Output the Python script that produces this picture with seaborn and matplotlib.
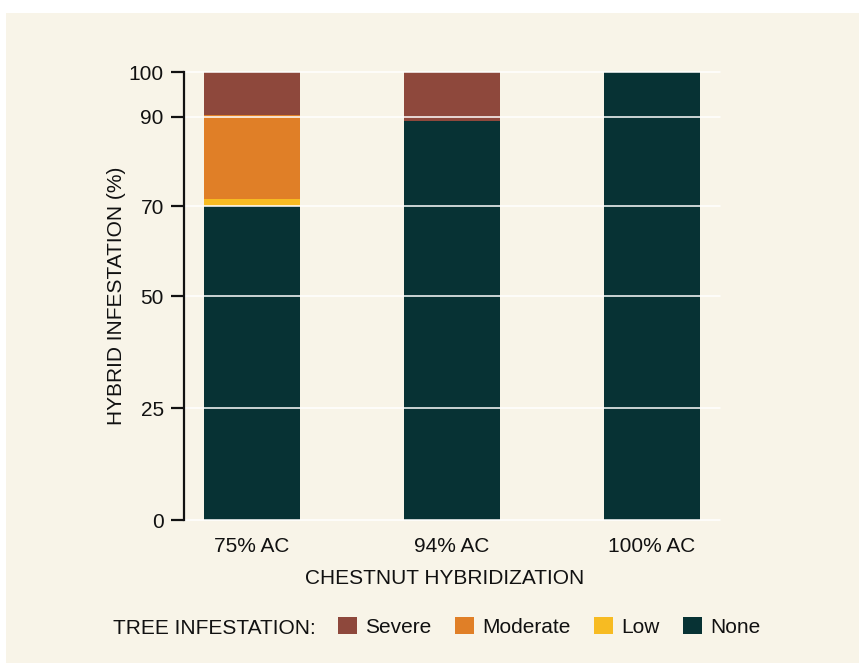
import matplotlib
matplotlib.use("Agg")
import matplotlib.pyplot as plt
from matplotlib.patches import Patch, Rectangle
import seaborn as sns
import pandas as pd

categories = ["75% AC", "94% AC", "100% AC"]
none_vals = [70.0, 89.0, 100.0]
low_vals = [1.6, 0.0, 0.0]
moderate_vals = [18.9, 0.0, 0.0]
severe_vals = [9.5, 11.0, 0.0]
yticks = [0, 25, 50, 70, 90, 100]
levels = ["Severe", "Moderate", "Low", "None"]
colors = {"Severe": "#8E483C", "Moderate": "#E07F27", "Low": "#F7BB22", "None": "#073234"}

BG = "#F8F4E8"
INK = "#111111"
FONT = ["Liberation Sans", "DejaVu Sans"]
FS = 15

sns.set_theme(style="white")
plt.rcParams["font.family"] = FONT

df = pd.DataFrame({"cat": categories, "None": none_vals, "Low": low_vals,
                   "Moderate": moderate_vals, "Severe": severe_vals})
df["c_None"] = df["None"]
df["c_Low"] = df["c_None"] + df["Low"]
df["c_Moderate"] = df["c_Low"] + df["Moderate"]
df["c_Severe"] = df["c_Moderate"] + df["Severe"]

W, H = 859, 663
fig = plt.figure(figsize=(W / 100, H / 100), dpi=100)
fig.patch.set_facecolor("white")
fig.patches.append(Rectangle((6 / W, 0), 1 - 6 / W, 1 - 13 / H, transform=fig.transFigure,
                             facecolor=BG, edgecolor="none", zorder=-10))

ax = fig.add_axes([184 / W, 1 - 520 / H, (720 - 184) / W, (520 - 72) / H])
ax.set_facecolor(BG)

for lev in levels:
    sns.barplot(data=df, x="cat", y="c_" + lev, color=colors[lev], saturation=1,
                width=0.48, linewidth=0, ax=ax, zorder=1)

ax.set_xlim(-0.34, 2.34)
ax.set_ylim(0, 100)
ax.set_yticks(yticks)
ax.set_yticklabels([str(t) for t in yticks])
ax.grid(axis="y", color="white", linewidth=1.1, zorder=3)
ax.grid(axis="x", visible=False)
ax.set_axisbelow(False)
for gl in ax.get_ygridlines():
    gl.set_clip_on(False)

for s in ["top", "right", "bottom"]:
    ax.spines[s].set_visible(False)
ax.spines["left"].set_color(INK)
ax.spines["left"].set_linewidth(1.6)
ax.spines["left"].set_zorder(4)

ax.tick_params(axis="y", direction="out", length=9.5, width=1.6, color=INK,
               labelsize=FS, labelcolor=INK, pad=5, left=True)
ax.tick_params(axis="x", length=0, labelsize=FS, labelcolor=INK, pad=12)

ax.set_xlabel("")
ax.set_ylabel("HYBRID INFESTATION (%)", fontsize=FS, color=INK)
ax.yaxis.set_label_coords((126 - 184) / 536, 0.5)

fig.text(445 / W, 1 - 579 / H, "CHESTNUT HYBRIDIZATION", ha="center", va="center",
         fontsize=FS, color=INK)

fig.text(113 / W, 1 - 628 / H, "TREE INFESTATION:", ha="left", va="center",
         fontsize=FS, color=INK)
handles = [Patch(facecolor=colors[l], edgecolor="none", label=l) for l in levels]
leg = fig.legend(handles=handles, loc="center left", bbox_to_anchor=(338 / W, 1 - 627 / H),
                 ncol=4, frameon=False, fontsize=FS, handlelength=0.9, handleheight=0.9,
                 handletextpad=0.4, columnspacing=1.13, borderpad=0, borderaxespad=0)
for t in leg.get_texts():
    t.set_color(INK)

fig.savefig("out.png", dpi=100, facecolor=fig.get_facecolor())
